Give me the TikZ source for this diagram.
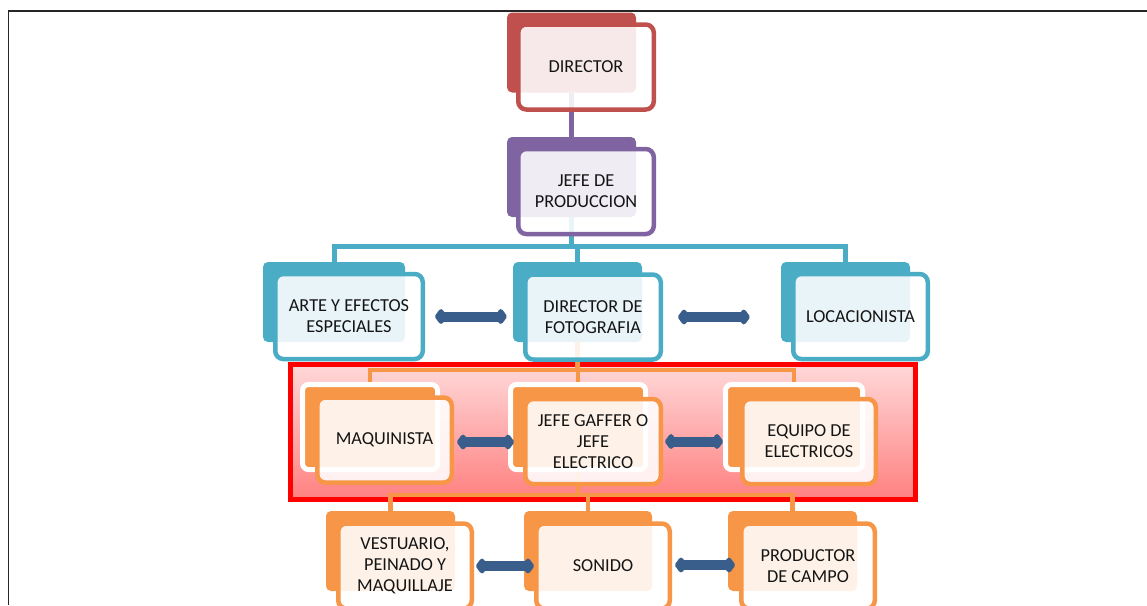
\documentclass[tikz,border=0pt]{standalone}
\usepackage{fontspec}
\setmainfont{Carlito}
\usetikzlibrary{arrows.meta}
\definecolor{cred}{HTML}{C0504D}
\definecolor{cpur}{HTML}{8064A2}
\definecolor{cteal}{HTML}{4BACC6}
\definecolor{corg}{HTML}{F79646}
\definecolor{carr}{HTML}{3A5E8C}
\definecolor{ctext}{HTML}{141414}
\definecolor{rtop}{RGB}{255,216,216}
\definecolor{rbot}{RGB}{255,128,128}
\begin{document}
\begin{tikzpicture}[x=1pt,y=-1pt,
  backbox/.style={rounded corners=5pt, inner sep=0pt, minimum height=80pt},
  halobox/.style={rounded corners=6pt, inner sep=0pt, draw=white, line width=5pt, minimum height=85pt},
  frontbox/.style={rounded corners=8pt, fill=white, fill opacity=0.88, text opacity=1,
     line width=4.5pt, inner sep=2pt, minimum height=85pt, align=center,
     font=\fontsize{18.3}{21}\selectfont, text=ctext},
  conn/.style={line width=5pt},
  oconn/.style={line width=4.5pt, draw=corg},
  dblarr/.style={draw=carr, fill=carr, line width=10pt,
     {Kite[length=12pt,width=19pt,inset=5pt,round]}-{Kite[length=12pt,width=19pt,inset=5pt,round]}},
  frame/.style={line width=1.6pt, draw=black!85}
]
\useasboundingbox (0,0) rectangle (1147,605);
\clip (0,0) rectangle (1147,605);

% highlighted band
\draw[line width=5pt, draw=red, top color=rtop, bottom color=rbot] (290.5,364.5) rectangle (915.5,499.5);

% back boxes
\node[backbox, fill=cred, minimum width=129pt] (dirB) at (571.5,52.5) {};
\node[backbox, fill=cpur, minimum width=129pt] (jefB) at (571.5,177) {};
\node[backbox, fill=cteal, minimum width=142pt] (arteB) at (334,302) {};
\node[backbox, fill=cteal, minimum width=129pt] (dfB) at (577.5,302) {};
\node[backbox, fill=cteal, minimum width=129pt] (locB) at (845.5,302) {};
\node[halobox, fill=corg, minimum width=135pt] (maqB) at (370,427) {};
\node[halobox, fill=corg, minimum width=135pt] (jgB) at (578,427) {};
\node[halobox, fill=corg, minimum width=137pt] (eqB) at (794,427) {};
\node[backbox, fill=corg, minimum width=129pt] (vestB) at (390.5,551) {};
\node[backbox, fill=corg, minimum width=128pt] (sonB) at (588,551) {};
\node[backbox, fill=corg, minimum width=129pt] (prodB) at (792.5,551) {};

% connectors
\draw[conn, cpur] (dirB.south) -- (jefB.north);
\draw[conn, cteal] (jefB.south) -- ++(0,30);
\draw[conn, cteal] (arteB.north) -- ++(0,-15) -| (locB.north);
\draw[conn, cteal] (dfB.north) -- ++(0,-15);
\draw[oconn] (dfB.south) -- ++(0,28);
\draw[oconn] (maqB.north) -- ++(0,-12) -| (eqB.north);
\draw[oconn] (jgB.north) -- ++(0,-12);
\draw[oconn] (jgB.south) -- ++(0,23);
\draw[oconn] (vestB.north) -- ++(0,-16) -| (prodB.north);
\draw[oconn] (sonB.north) -- ++(0,-16);

% front boxes
\node[frontbox, draw=cred, minimum width=135.5pt] (dir) at (586,67) {DIRECTOR};
\node[frontbox, draw=cpur, minimum width=135.5pt] (jef) at (586,191.5) {JEFE DE\\PRODUCCION};
\node[frontbox, draw=cteal, minimum width=147.5pt] (arte) at (349,316.5) {ARTE Y EFECTOS\\ESPECIALES};
\node[frontbox, draw=cteal, minimum width=135.5pt] (df) at (593,317) {DIRECTOR DE\\FOTOGRAFIA};
\node[frontbox, draw=cteal, minimum width=134.5pt] (loc) at (860.5,316.5) {LOCACIONISTA};
\node[frontbox, draw=corg, minimum width=134.5pt] (maq) at (384.5,440) {MAQUINISTA};
\node[frontbox, draw=corg, minimum width=135.5pt] (jg) at (593,441.5) {JEFE GAFFER O\\JEFE\\ELECTRICO};
\node[frontbox, draw=corg, minimum width=133.5pt] (eq) at (809,441.5) {EQUIPO DE\\ELECTRICOS};
\node[frontbox, draw=corg, minimum width=133.5pt] (vest) at (405,566) {VESTUARIO,\\PEINADO Y\\MAQUILLAJE};
\node[frontbox, draw=corg, minimum width=133.5pt] (son) at (603,566) {SONIDO};
\node[frontbox, draw=corg, minimum width=133.5pt] (prod) at (808,566) {PRODUCTOR\\DE CAMPO};

% double arrows
\draw[dblarr, shorten <=10pt, shorten >=6pt] (arte.east) -- (arte.east -| dfB.west);
\draw[dblarr, shorten <=15pt, shorten >=31pt] (df.east) -- (df.east -| locB.west);
\draw[dblarr, shorten <=3pt, shorten >=9pt] ([yshift=-2pt]maq.east) -- ([yshift=-2pt]maq.east -| jg.west);
\draw[dblarr, shorten <=2pt, shorten >=17pt] (jg.east) -- (jg.east -| eq.west);
\draw[dblarr, shorten <=2pt, shorten >=0pt] (vest.east) -- (vest.east -| son.west);
\draw[dblarr, shorten <=3pt, shorten >=4pt] ([yshift=1pt]son.east) -- ([yshift=1pt]son.east -| prod.west);

% frame
\coordinate (fbl) at (8.3,605);
\coordinate (ftl) at (8.3,11);
\coordinate (ftr) at (1147,11);
\draw[frame] (fbl) -- (ftl) -- (ftr);
\end{tikzpicture}
\end{document}
